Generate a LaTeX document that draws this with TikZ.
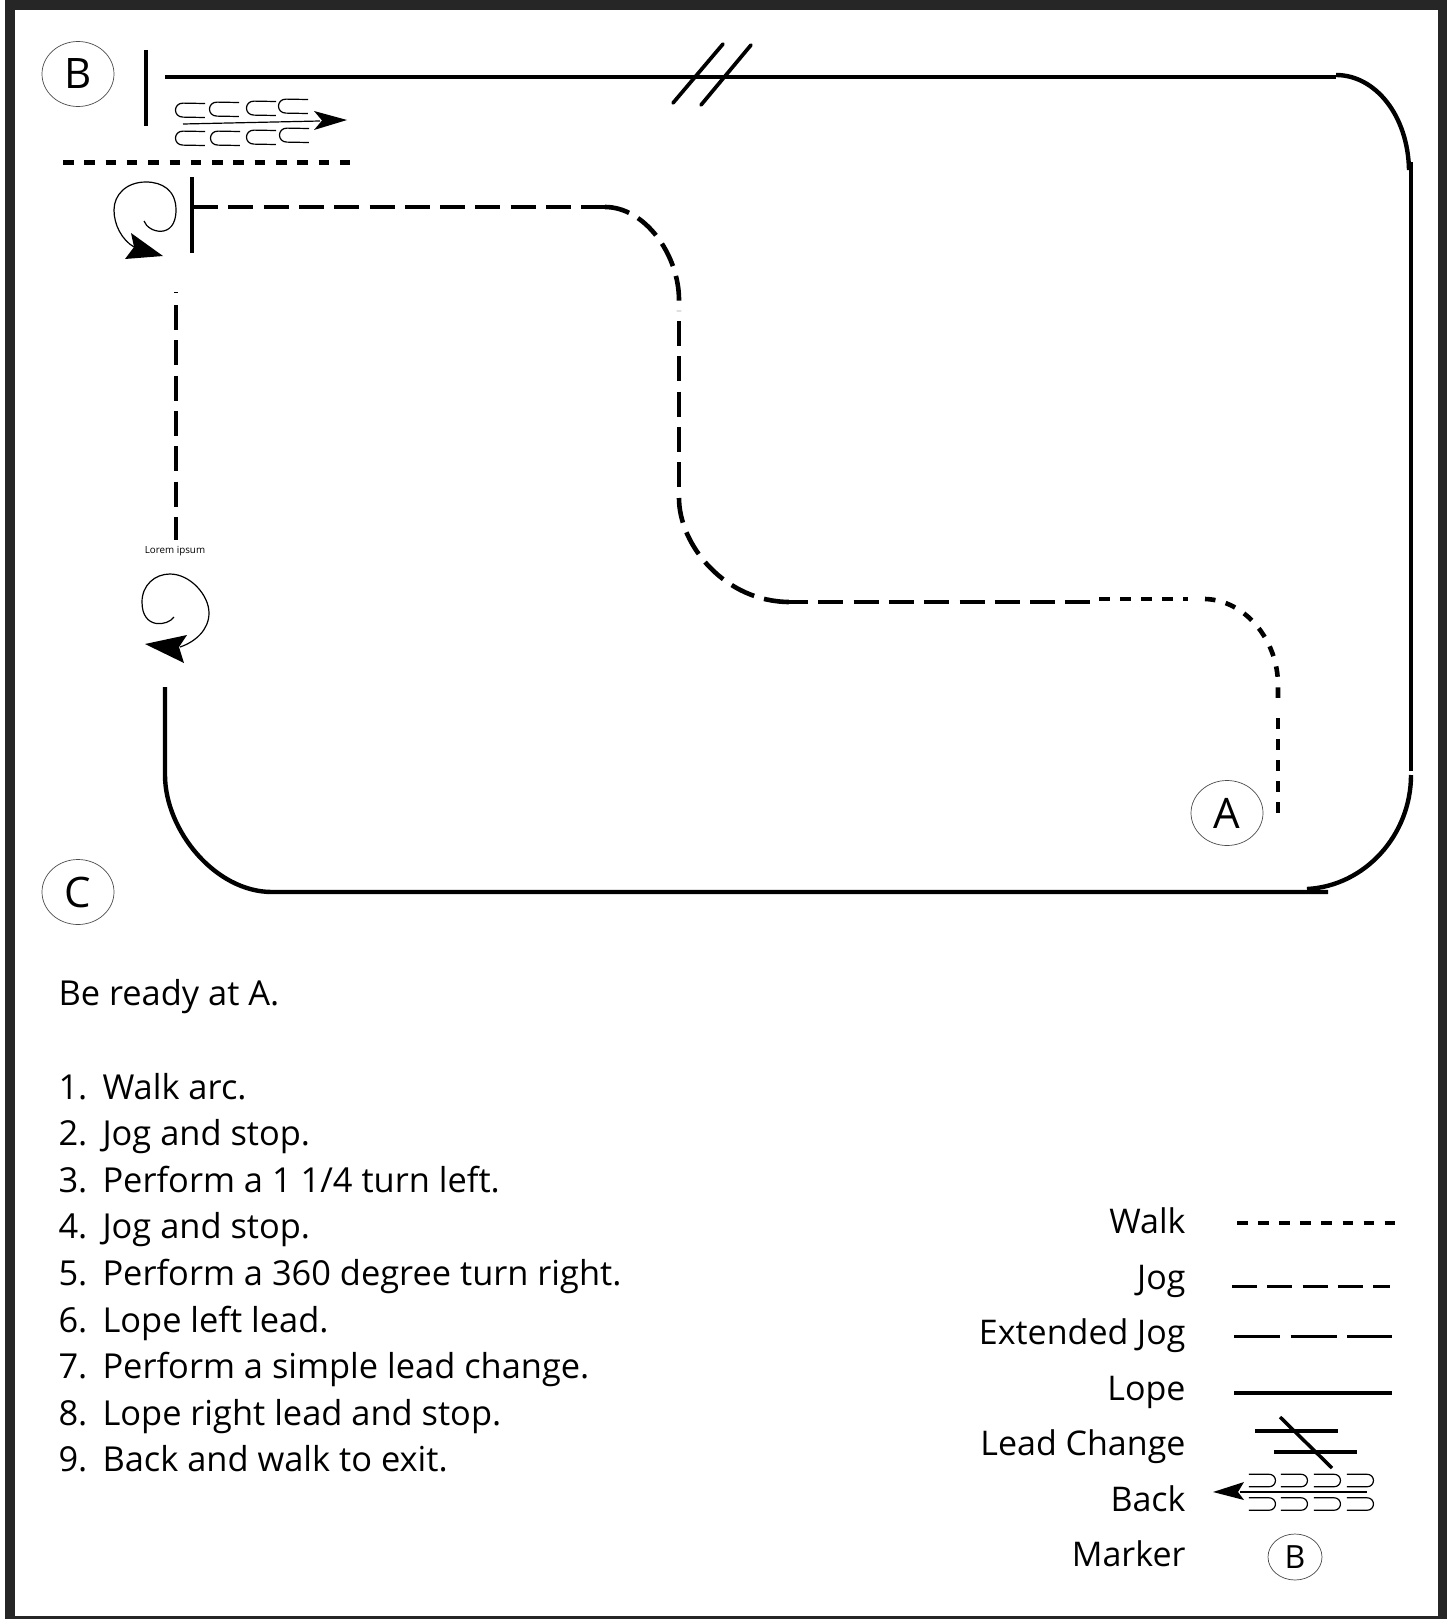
\documentclass[tikz,border=0pt]{standalone}
\usepackage{fontspec}
\setmainfont{Open Sans}
\usetikzlibrary{positioning,shapes.geometric}
\definecolor{framegray}{HTML}{262626}
\tikzset{
  lope/.style={line width=4.4pt},
  jog/.style={line width=4.6pt, dash pattern=on 25pt off 10.3pt},
  walk/.style={line width=4.6pt, dash pattern=on 10.5pt off 10.6pt},
  marker/.style={draw, ellipse, line width=0.7pt, draw=black!70, inner sep=0pt},
  stitch/.pic={
    \draw[line width=1.2pt] (29,-7) -- (7,-7) .. controls (-3,-7) and (-3,7) .. (7,7) -- (29,7);
  },
}
\newcommand{\stepfont}{\fontsize{34.4}{34.4}\selectfont}
\newcommand{\legendfont}{\fontsize{34}{34}\selectfont}
\begin{document}
\begin{tikzpicture}[x=1pt, y=-1pt]
  \useasboundingbox (0,0) rectangle (1447,1619);
  \fill[framegray] (0,0) rectangle (1447,1619);
  \fill[white] (0,0) rectangle (5,1619);
  \fill[white] (15,10) rectangle (1438,1616);

  \node[marker, minimum width=72pt, minimum height=65pt, font=\fontsize{42}{42}\selectfont] (B) at (78,74) {B};
  \node[marker, minimum width=72pt, minimum height=65pt, font=\fontsize{42}{42}\selectfont] (A) at (1227,813) {A};
  \node[marker, minimum width=72pt, minimum height=65pt, font=\fontsize{42}{42}\selectfont] (C) at (78,892) {C};

  \coordinate (lopetop) at (165,77);
  \coordinate (loperight) at (1411,162);
  \coordinate (lopelow) at (1411,771);
  \coordinate (lopebottom) at (272,892);
  \coordinate (lopeleft) at (165,775);
  \coordinate (lopeend) at (165,687);
  \draw[lope] (lopetop) -- (1336,77);
  \draw[lope] (1336,75) .. controls (1375,75) and (1408,115) .. (1409,170);
  \draw[lope] (loperight) -- (lopelow);
  \draw[lope] (1411,775) .. controls (1411,835) and (1365,886) .. (1307,889);
  \draw[lope] (1328,892) -- (lopebottom) .. controls (215,892) and (165,830) .. (lopeleft) -- (lopeend);
  \draw[line width=4pt] (146,50) -- (146,126);
  \draw[line width=3.7pt, line cap=round] (673,103) -- (723,44);
  \draw[line width=3.7pt, line cap=round] (701,105) -- (751,45);

  \foreach \x/\y in {176/110, 210/109, 247/108, 279/106} {
    \pic[rotate=-1] at (\x,\y) {stitch};
  }
  \foreach \x/\y in {176/138, 211/138, 247/137, 280/135} {
    \pic[rotate=-1] at (\x,\y) {stitch};
  }
  \coordinate (backstart) at (183,124);
  \coordinate (backtip) at (347,120);
  \draw[line width=1.2pt] (backstart) -- (320,121);
  \fill (backtip) -- (314,111) -- (322,120.5) -- (314,130) -- cycle;

  \coordinate (walktopa) at (63,162);
  \coordinate (walktopb) at (351,162);
  \draw[walk, line width=5pt, dash pattern=on 10.5pt off 10.8pt] (walktopa) -- (walktopb);

  \draw[line width=4.4pt] (192,177) -- (192,253);
  \coordinate (jogstart) at (193,207);
  \coordinate (jogturn) at (606,207);
  \draw[jog] (jogstart) -- (jogturn);
  \draw[jog] (605,207) .. controls (645,207) and (679,255) .. (679,300) -- (679,311);
  \draw[jog] (679,321) -- (679,487);
  \draw[jog] (679,498) .. controls (679,545) and (725,602) .. (790,602);
  \draw[jog] (783,602) -- (1091,602);
  \draw[walk] (1099,599) -- (1188,599);
  \draw[walk] (1205,599) .. controls (1245,600) and (1278,640) .. (1278,685) -- (1278,707);
  \draw[walk, dash pattern=on 10.5pt off 10.5pt] (1278,718) -- (1278,813);

  \draw[line width=1pt] (174,292) -- (178,292);
  \draw[jog] (176,305) -- (176,540);
  \node[font=\fontsize{9.8}{9.8}\selectfont] (lorem) at (175,551) {Lorem ipsum};

  \draw[line width=1.2pt] (144,221) .. controls (148,233) and (176,240) .. (176,210)
    .. controls (176,190) and (162,182) .. (146,182) .. controls (126,182) and (114,195) .. (114,210)
    .. controls (114,225) and (122,240) .. (134,247);
  \fill (163,256) -- (131,233) -- (134,247) -- (125,259) -- cycle;

  \draw[line width=1.2pt] (174,617) .. controls (168,626) and (142,630) .. (142,602)
    .. controls (142,585) and (155,574) .. (170,574) .. controls (190,574) and (209,595) .. (209,613)
    .. controls (209,630) and (195,642) .. (180,647);
  \fill (145,644) -- (187,635) -- (179,647) -- (184,663) -- cycle;

  \node[anchor=base west, font=\stepfont] (ready) at (55,1005) {Be ready at A.};
  \foreach [count=\i] \steptext in {Walk arc., Jog and stop., Perform a 1 1/4 turn left., Jog and stop., Perform a 360 degree turn right., Lope left lead., Perform a simple lead change., Lope right lead and stop., Back and walk to exit.} {
    \node[anchor=base west, font=\stepfont] (num\i) at (55,1099+46.6*\i-46.6) {\i.};
    \node[anchor=base west, font=\stepfont] (steptext\i) at (99,1099+46.6*\i-46.6) {\steptext};
  }

  \foreach \label/\y in {Walk/1233, Jog/1289, Extended Jog/1344, Lope/1400, Lead Change/1455, Back/1511, Marker/1566} {
    \node[anchor=base east, font=\legendfont] at (1189,\y) {\label};
  }
  \draw[walk] (1237,1223) -- (1396,1223);
  \draw[jog, line width=3pt] (1232,1286) -- (1390,1286);
  \draw[jog, line width=3pt, dash pattern=on 46pt off 10.5pt] (1234,1336) -- (1392,1336);
  \draw[lope, line width=3.8pt] (1234,1393) -- (1392,1393);
  \draw[lope] (1255,1431) -- (1338,1431);
  \draw[lope] (1274,1452) -- (1357,1452);
  \draw[line width=3.5pt] (1280,1417) -- (1332,1468);
  \foreach \x in {1275, 1307, 1340, 1373} {
    \pic[xscale=-1, scale=0.9] at (\x,1480.5) {stitch};
    \pic[xscale=-1, scale=0.9] at (\x,1504) {stitch};
  }
  \draw[line width=1.2pt] (1367,1492) -- (1240,1492);
  \fill (1213,1492) -- (1244,1482) -- (1238,1492) -- (1244,1500) -- cycle;
  \node[marker, minimum width=54pt, minimum height=46pt, font=\fontsize{32}{32}\selectfont] (legendB) at (1295,1557) {B};
\end{tikzpicture}
\end{document}
